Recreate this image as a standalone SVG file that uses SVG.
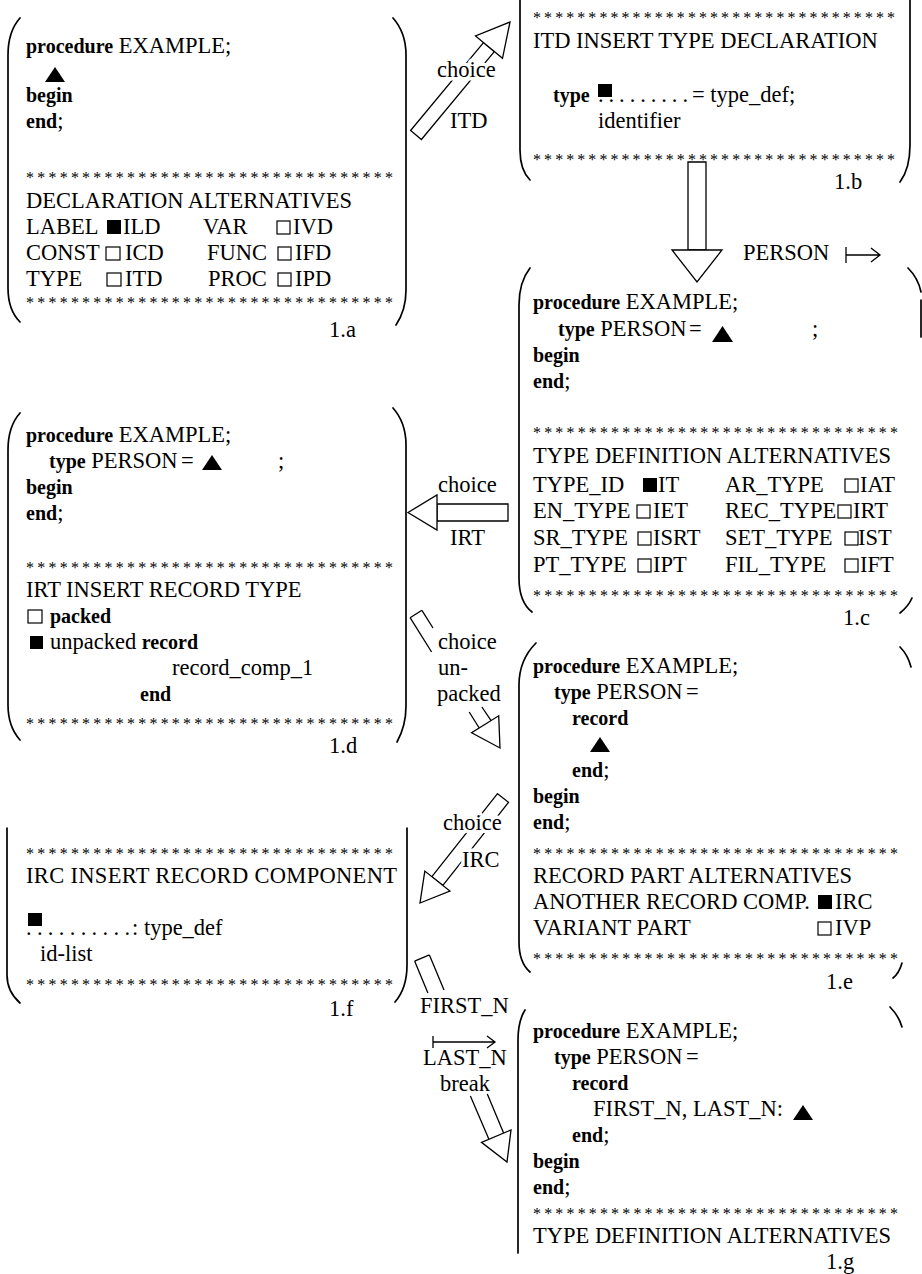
<svg xmlns="http://www.w3.org/2000/svg" width="922" height="1274" viewBox="0 0 922 1274">
<style>
.t{font-family:"Liberation Serif","Times New Roman",serif;font-size:22.5px;fill:#000}
.b{font-weight:bold;font-size:20px}
.s{font-family:"Liberation Serif","Times New Roman",serif;font-size:16px;fill:#000}
.br{fill:none;stroke:#000;stroke-width:1.7;stroke-linecap:round}
.ar{fill:#fff;stroke:#000;stroke-width:1.3;stroke-linejoin:miter}
.ln{fill:none;stroke:#000;stroke-width:1.3}
.ko{paint-order:stroke;stroke:#fff;stroke-width:7;stroke-linejoin:round}
.cb{fill:#fff;stroke:#000;stroke-width:1.2}
.fb{fill:#000}
</style>
<rect width="922" height="1274" fill="#fff"/>

<g id="panel-1a">
<path class="br" d="M20,18 C12,27 8,38 8,55 L8,288 C8,304 12,314 20,322"/>
<path class="br" d="M393,18 C401,27 406,38 406,55 L406,290 C406,306 402,316 396,325"/>
<text class="t" x="26" y="53"><tspan class="b">procedure</tspan> EXAMPLE;</text>
<polygon class="fb" points="45,82 65,82 55,67"/>
<text class="t b" x="26" y="102">begin</text>
<text class="t" x="26" y="128"><tspan class="b">end</tspan>;</text>
<text class="s" x="26" y="183" textLength="367" lengthAdjust="spacing">*********************************</text>
<text class="t" x="26" y="208">DECLARATION ALTERNATIVES</text>
<text class="t" x="26" y="234">LABEL</text>
<rect class="fb" x="107" y="220" width="14" height="14"/>
<text class="t" x="123" y="234">ILD</text>
<text class="t" x="203" y="234">VAR</text>
<rect class="cb" x="277" y="221" width="13" height="13"/>
<text class="t" x="293" y="234">IVD</text>
<text class="t" x="26" y="260">CONST</text>
<rect class="cb" x="106" y="247" width="14" height="13"/>
<text class="t" x="125" y="260">ICD</text>
<text class="t" x="207" y="260">FUNC</text>
<rect class="cb" x="278" y="247" width="13" height="13"/>
<text class="t" x="295" y="260">IFD</text>
<text class="t" x="26" y="286">TYPE</text>
<rect class="cb" x="107" y="273" width="14" height="13"/>
<text class="t" x="125" y="286">ITD</text>
<text class="t" x="208" y="286">PROC</text>
<rect class="cb" x="278" y="273" width="13" height="13"/>
<text class="t" x="295" y="286">IPD</text>
<text class="s" x="26" y="308" textLength="367" lengthAdjust="spacing">*********************************</text>
<text class="t" x="329" y="337">1.a</text>
</g>

<g id="panel-1b">
<path class="br" d="M520,0 L520,150 C520,165 524,174 530,180"/>
<path class="br" d="M910,0 L910,145 C910,162 906,174 900,182"/>
<text class="s" x="533" y="23" textLength="362" lengthAdjust="spacing">*********************************</text>
<text class="t" x="533" y="48">ITD INSERT TYPE DECLARATION</text>
<text class="t b" x="553" y="102">type</text>
<rect class="fb" x="598" y="84" width="14" height="13"/>
<text class="t" x="598" y="102" textLength="90" lengthAdjust="spacing">.........</text>
<text class="t" x="692" y="102">= type_def;</text>
<text class="t" x="598" y="128">identifier</text>
<text class="s" x="533" y="165" textLength="362" lengthAdjust="spacing">*********************************</text>
<text class="t" x="834" y="189">1.b</text>
</g>

<g id="panel-1c">
<path class="br" d="M530,268 C523,277 519,288 519,305 L519,578 C519,594 523,605 532,612"/>
<path class="br" d="M908,268 C914,274 919,282 921,292"/>
<path class="br" d="M921,300 L921,337"/>
<path class="br" d="M912,598 C909,605 905,609 900,613"/>
<text class="t" x="533" y="309"><tspan class="b">procedure</tspan> EXAMPLE;</text>
<text class="t" x="558" y="336"><tspan class="b">type</tspan> PERSON</text>
<text class="t" x="689" y="336">=</text>
<polygon class="fb" points="712,342 733,342 722.5,326"/>
<text class="t" x="812" y="336">;</text>
<text class="t b" x="533" y="362">begin</text>
<text class="t" x="533" y="388"><tspan class="b">end</tspan>;</text>
<text class="s" x="533" y="438" textLength="365" lengthAdjust="spacing">*********************************</text>
<text class="t" x="533" y="463">TYPE DEFINITION ALTERNATIVES</text>
<text class="t" x="533" y="492">TYPE_ID</text>
<rect class="fb" x="643" y="478" width="14" height="14"/>
<text class="t" x="658" y="492">IT</text>
<text class="t" x="725" y="492">AR_TYPE</text>
<rect class="cb" x="845" y="479" width="13" height="13"/>
<text class="t" x="860" y="492">IAT</text>
<text class="t" x="533" y="518">EN_TYPE</text>
<rect class="cb" x="637" y="505" width="13" height="13"/>
<text class="t" x="653" y="518">IET</text>
<text class="t" x="725" y="518">REC_TYPE</text>
<rect class="cb" x="838" y="505" width="13" height="13"/>
<text class="t" x="853" y="518">IRT</text>
<text class="t" x="533" y="545">SR_TYPE</text>
<rect class="cb" x="638" y="532" width="13" height="13"/>
<text class="t" x="653" y="545">ISRT</text>
<text class="t" x="725" y="545">SET_TYPE</text>
<rect class="cb" x="845" y="532" width="13" height="13"/>
<text class="t" x="858" y="545">IST</text>
<text class="t" x="533" y="572">PT_TYPE</text>
<rect class="cb" x="638" y="559" width="13" height="13"/>
<text class="t" x="653" y="572">IPT</text>
<text class="t" x="725" y="572">FIL_TYPE</text>
<rect class="cb" x="845" y="559" width="13" height="13"/>
<text class="t" x="860" y="572">IFT</text>
<text class="s" x="533" y="601" textLength="365" lengthAdjust="spacing">*********************************</text>
<text class="t" x="843" y="625">1.c</text>
</g>

<g id="panel-1d">
<path class="br" d="M20,413 C12,422 8,433 8,450 L8,705 C8,721 12,731 20,740"/>
<path class="br" d="M393,408 C401,417 406,428 406,445 L406,706 C406,723 402,733 397,742"/>
<text class="t" x="26" y="442"><tspan class="b">procedure</tspan> EXAMPLE;</text>
<text class="t" x="49" y="468"><tspan class="b">type</tspan> PERSON</text>
<text class="t" x="181" y="468">=</text>
<polygon class="fb" points="202,470 222,470 212,455"/>
<text class="t" x="278" y="468">;</text>
<text class="t b" x="26" y="494">begin</text>
<text class="t" x="26" y="520"><tspan class="b">end</tspan>;</text>
<text class="s" x="26" y="573" textLength="367" lengthAdjust="spacing">*********************************</text>
<text class="t" x="26" y="597">IRT INSERT RECORD TYPE</text>
<rect class="cb" x="28" y="610" width="14" height="13"/>
<text class="t b" x="50" y="623">packed</text>
<rect class="fb" x="30" y="636" width="13" height="13"/>
<text class="t" x="50" y="649">unpacked <tspan class="b">record</tspan></text>
<text class="t" x="172" y="675">record_comp_1</text>
<text class="t b" x="140" y="701">end</text>
<text class="s" x="26" y="729" textLength="367" lengthAdjust="spacing">*********************************</text>
<text class="t" x="329" y="753">1.d</text>
</g>

<g id="panel-1e">
<path class="br" d="M536,643 C527,652 519,665 519,685 L519,942 C519,958 523,966 530,972"/>
<path class="br" d="M900,647 C905,652 909,659 911,667"/>
<path class="br" d="M902,963 C900,970 897,975 893,978"/>
<text class="t" x="533" y="673"><tspan class="b">procedure</tspan> EXAMPLE;</text>
<text class="t" x="554" y="699"><tspan class="b">type</tspan> PERSON</text>
<text class="t" x="686" y="699">=</text>
<text class="t b" x="572" y="725">record</text>
<polygon class="fb" points="590,752 610,752 600,737"/>
<text class="t" x="572" y="777"><tspan class="b">end</tspan>;</text>
<text class="t b" x="533" y="803">begin</text>
<text class="t" x="533" y="829"><tspan class="b">end</tspan>;</text>
<text class="s" x="533" y="859" textLength="365" lengthAdjust="spacing">*********************************</text>
<text class="t" x="533" y="883">RECORD PART ALTERNATIVES</text>
<text class="t" x="533" y="909">ANOTHER RECORD COMP.</text>
<rect class="fb" x="818" y="895" width="14" height="14"/>
<text class="t" x="835" y="909">IRC</text>
<text class="t" x="533" y="935">VARIANT PART</text>
<rect class="cb" x="818" y="922" width="13" height="13"/>
<text class="t" x="835" y="935">IVP</text>
<text class="s" x="533" y="964" textLength="365" lengthAdjust="spacing">*********************************</text>
<text class="t" x="826" y="989">1.e</text>
</g>

<g id="panel-1f">
<path class="br" d="M7,828 L7,975 C7,988 12,996 20,1003"/>
<path class="br" d="M407,828 L407,965 C407,982 402,994 395,1002"/>
<text class="s" x="26" y="859" textLength="367" lengthAdjust="spacing">*********************************</text>
<text class="t" x="26" y="883" textLength="371" lengthAdjust="spacing">IRC INSERT RECORD COMPONENT</text>
<rect class="fb" x="28" y="913" width="14" height="13"/>
<text class="t" x="26" y="935" textLength="104" lengthAdjust="spacing">..........</text>
<text class="t" x="132" y="935">: type_def</text>
<text class="t" x="40" y="961">id-list</text>
<text class="s" x="26" y="990" textLength="367" lengthAdjust="spacing">*********************************</text>
<text class="t" x="329" y="1016">1.f</text>
</g>

<g id="panel-1g">
<path class="br" d="M525,1010 C520,1018 518,1026 518,1040 L518,1253"/>
<path class="br" d="M890,1007 C896,1013 900,1020 902,1027"/>
<text class="t" x="533" y="1038"><tspan class="b">procedure</tspan> EXAMPLE;</text>
<text class="t" x="554" y="1064"><tspan class="b">type</tspan> PERSON</text>
<text class="t" x="686" y="1064">=</text>
<text class="t b" x="572" y="1090">record</text>
<text class="t" x="593" y="1116">FIRST_N, LAST_N:</text>
<polygon class="fb" points="793,1120 813,1120 803,1105"/>
<text class="t" x="572" y="1142"><tspan class="b">end</tspan>;</text>
<text class="t b" x="533" y="1168">begin</text>
<text class="t" x="533" y="1194"><tspan class="b">end</tspan>;</text>
<text class="s" x="533" y="1219" textLength="365" lengthAdjust="spacing">*********************************</text>
<text class="t" x="533" y="1243">TYPE DEFINITION ALTERNATIVES</text>
<text class="t" x="826" y="1269">1.g</text>
</g>

<g id="connectors">
<!-- ITD: 1.a -> 1.b -->
<polygon class="ar" points="494.3,51.6 421.4,139.5 410.6,130.5 483.5,42.6"/>
<polygon class="ar" points="510,22 502.5,58.3 475.5,35.9"/>
<text class="t ko" x="437" y="77">choice</text>
<text class="t ko" x="450" y="128">ITD</text>
<!-- 1.b -> 1.c -->
<polygon class="ar" points="688,162 706,162 706,250 688,250"/>
<polygon class="ar" points="672,250 722,250 697,282"/>
<text class="t" x="743" y="260">PERSON</text>
<path class="ln" d="M846,247 V263 M846,255 H880 M871,248 L880,255 L871,262"/>
<!-- IRT: 1.c -> 1.d -->
<polygon class="ar" points="437,504 508,504 508,521 437,521"/>
<polygon class="ar" points="408,512.5 437,495 437,530"/>
<text class="t" x="438" y="492">choice</text>
<text class="t" x="450" y="545">IRT</text>
<!-- unpacked: 1.d -> 1.e -->
<path class="ln" d="M410.1,617.7 L421.9,610.3 M410.1,617.7 L431.6,652 M421.9,610.3 L433,628 M469.2,712 L479.2,728 M481.9,707 L491.1,720.6"/>
<polygon class="ar" points="500,748 498.7,715.8 471.6,732.8"/>
<text class="t" x="438" y="649">choice</text>
<text class="t" x="438" y="675">un-</text>
<text class="t" x="437" y="701">packed</text>
<!-- IRC: 1.e -> 1.f -->
<polygon class="ar" points="497.5,793.7 508.5,802.3 442.9,885.4 431.9,876.7"/>
<polygon class="ar" points="420,903 449.9,891 424.8,871.1"/>
<text class="t ko" x="443" y="830">choice</text>
<text class="t ko" x="462" y="867">IRC</text>
<!-- break: 1.f -> 1.g -->
<path class="ln" d="M414.6,961.1 L429.4,954.9 M414.6,961.1 L427.9,993 M429.4,954.9 L444,990 M470.4,1096 L488.9,1139.2 M487.3,1094 L503.6,1133.1"/>
<polygon class="ar" points="507,1162 511,1130 481.5,1142.3"/>
<text class="t" x="420" y="1013">FIRST_N</text>
<path class="ln" d="M433,1036 V1048 M433,1042 H495 M487,1036 L495,1042 L487,1048"/>
<text class="t" x="423" y="1065">LAST_N</text>
<text class="t" x="440" y="1091">break</text>
</g>
</svg>
